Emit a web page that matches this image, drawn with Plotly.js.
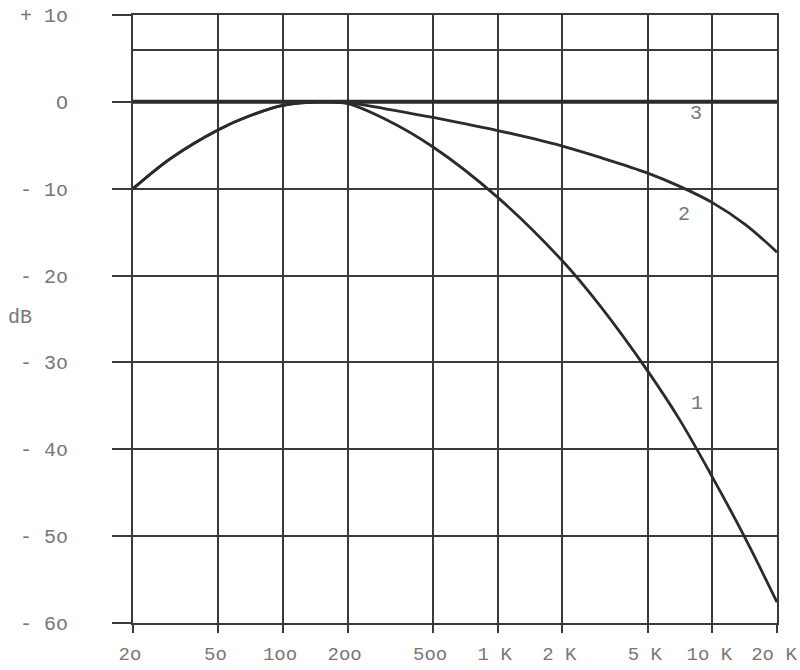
<!DOCTYPE html>
<html>
<head>
<meta charset="utf-8">
<script src="https://cdn.plot.ly/plotly-3.0.1.min.js"></script>
<style>html,body{margin:0;padding:0;background:#fff;}#chart{width:800px;height:670px;}</style>
</head>
<body>
<div id="chart"></div>
<script>
// Frequency (Hz) and level (dB)
const freq1 = [20, 30, 50, 70, 100, 150, 200, 300, 500, 1000, 2000, 3000, 5000, 7000, 10000, 14200, 20000];
const db1   = [-10, -6.5, -3.2, -1.6, -0.4, 0, -0.2, -2.0, -5.2, -11, -18.3, -23.5, -31, -36.5, -43.2, -50.2, -57.6];
const freq2 = [20, 30, 50, 70, 100, 150, 200, 300, 500, 700, 1000, 1500, 2000, 3000, 5000, 7000, 10000, 14200, 20000];
const db2   = [-10, -6.5, -3.2, -1.6, -0.4, 0, -0.1, -0.8, -1.8, -2.5, -3.3, -4.3, -5.1, -6.4, -8.2, -9.7, -11.6, -14.1, -17.3];
const freq3 = [20, 20000];
const db3   = [0, 0];
const xTickVals = [20, 50, 100, 200, 500, 1000, 2000, 5000, 10000, 20000];
const xTickText = ['2o', '5o', '1oo', '2oo', '5oo', '1 K', '2 K', '5 K', '1o K', '2o K'];
const yTickVals = [10, 0, -10, -20, -30, -40, -50, -60];
const yTickText = ['+ 1o', 'O', '- 1o', '- 2o', '- 3o', '- 4o', '- 5o', '- 6o'];
const curveLabels = ['1', '2', '3'];

const ink = '#2b2b2b';
const gridc = '#3a3a3a';
const txt = '#777';
const fnt = {family: 'Liberation Mono, DejaVu Sans Mono, monospace', size: 20, color: txt};
const xfnt = {family: 'Liberation Mono, DejaVu Sans Mono, monospace', size: 19, color: txt};

const traces = [
  {x: freq1, y: db1, mode: 'lines', line: {color: ink, width: 2.8, shape: 'spline', smoothing: 1}, hoverinfo: 'skip'},
  {x: freq2, y: db2, mode: 'lines', line: {color: ink, width: 2.8, shape: 'spline', smoothing: 1}, hoverinfo: 'skip'},
  {x: freq3, y: db3, mode: 'lines', line: {color: ink, width: 4}, hoverinfo: 'skip'}
];

const layout = {
  width: 800, height: 670,
  margin: {l: 133, r: 23, t: 15, b: 47},
  paper_bgcolor: '#fff', plot_bgcolor: '#fff',
  showlegend: false,
  font: fnt,
  xaxis: {
    type: 'log', range: [Math.log10(20), Math.log10(20000)],
    tickmode: 'array', tickvals: xTickVals, ticktext: xTickText,
    showgrid: true, gridcolor: gridc, gridwidth: 2,
    ticks: 'outside', ticklen: 8, tickwidth: 2, tickcolor: gridc,
    showline: true, linecolor: gridc, linewidth: 2, mirror: true,
    zeroline: false, tickfont: xfnt, ticklabelstandoff: 4,
    ticklabeloverflow: 'allow', ticklabelshift: -3
  },
  yaxis: {
    range: [-60, 10],
    tickmode: 'array', tickvals: yTickVals, ticktext: yTickText,
    showgrid: true, gridcolor: gridc, gridwidth: 2,
    ticks: 'outside', ticklen: 19, tickwidth: 2, tickcolor: gridc,
    showline: true, linecolor: gridc, linewidth: 2, mirror: true,
    zeroline: false, tickfont: fnt, ticklabelstandoff: 40,
    minor: {tickmode: 'array', tickvals: [6], showgrid: true, gridcolor: gridc, gridwidth: 2, ticks: ''}
  },
  annotations: [
    {xref: 'paper', yref: 'y', x: -0.176, y: -24.8, text: 'dB', showarrow: false, font: fnt, xanchor: 'center'},
    {xref: 'x', yref: 'y', x: Math.log10(8460), y: -34.7, text: curveLabels[0], showarrow: false, font: fnt},
    {xref: 'x', yref: 'y', x: Math.log10(7350), y: -13, text: curveLabels[1], showarrow: false, font: fnt},
    {xref: 'x', yref: 'y', x: Math.log10(8360), y: -1.3, text: curveLabels[2], showarrow: false, font: fnt}
  ]
};

Plotly.newPlot('chart', traces, layout, {staticPlot: true, displayModeBar: false});
</script>
</body>
</html>
